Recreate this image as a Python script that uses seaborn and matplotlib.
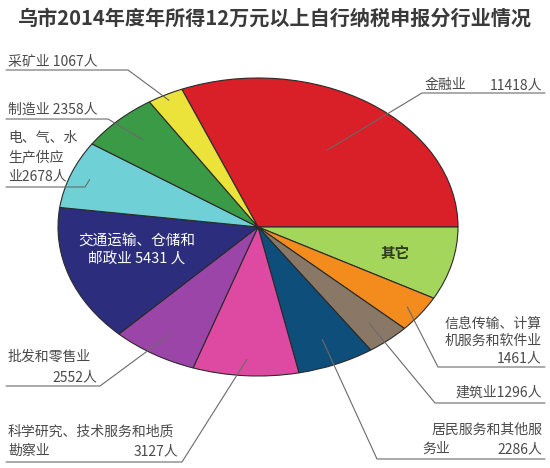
import numpy as np
import seaborn as sns
import matplotlib
matplotlib.use("Agg")
import matplotlib.pyplot as plt

# veriler
sektorler = ["金融业", "其它", "信息传输、计算机服务和软件业", "建筑业",
             "居民服务和其他服务业", "科学研究、技术服务和地质勘察业",
             "批发和零售业", "交通运输、仓储和邮政业", "电、气、水生产供应业",
             "制造业", "采矿业"]
kisi = [11418, 2900, 1461, 1296, 2286, 3127, 2552, 5431, 2678, 2358, 1067]
renkler = ["#d91f27", "#a4d65c", "#f38b1d", "#8a7866", "#0e4e7b", "#de4aa1",
           "#9c45a9", "#2c2e7d", "#6fd0d6", "#3b9a46", "#ece33a"]

sns.set_theme(style="white")
plt.rcParams["font.family"] = ["Noto Sans CJK SC", "DejaVu Sans"]

W, H = 550, 468
CX, CY, RX, RY = 258, 227, 200, 149


def px(x, y):
    # resim pikselinden veri koordinatina
    return (x - CX) / RX, (CY - y) / RY


fig = plt.figure(figsize=(W / 100, H / 100), dpi=100)
ax = fig.add_axes([0, 0, 1, 1])

baslangic = 360 * kisi[0] / sum(kisi)
wedges, _ = ax.pie(kisi, colors=renkler, startangle=baslangic, counterclock=False,
                   wedgeprops=dict(edgecolor="#2a2a2a", linewidth=0.8))
ax.set_aspect("auto")
ax.set_xlim(-CX / RX, (W - CX) / RX)
ax.set_ylim((CY - H) / RY, CY / RY)
ax.axis("off")

fig.text(0.5, 1 - 18 / H, "乌市2014年度年所得12万元以上自行纳税申报分行业情况",
         ha="center", va="center", fontsize=14.5, fontweight="bold", color="#3a3a3a")

gri = "#4a4a4a"
fs = 10


def yazi(x, y, s, ha="left", **kw):
    X, Y = px(x, y)
    ax.text(X, Y, s, ha=ha, va="center", fontsize=fs, color=gri, **kw)


# etiket: (dilim, alt cizgi y, sol x, sag x, dirsek x, yaricap)
cizgiler = [
    (10, 70, 6, 128, 128, 0.96),
    (9, 119, 6, 108, 108, 0.82),
    (8, 187, 6, 85, 85, 0.90),
    (0, 93, 545, 422, 422, 0.62),
    (2, 367, 545, 438, 438, 0.92),
    (3, 403, 545, 435, 435, 0.85),
    (4, 459, 545, 377, 377, 0.82),
    (6, 386, 6, 100, 100, 0.85),
    (5, 462, 6, 182, 182, 0.89),
]

for i, uy, x1, x2, dx, r in cizgiler:
    w = wedges[i]
    ort = np.deg2rad((w.theta1 + w.theta2) / 2)
    ex, ey = r * np.cos(ort), r * np.sin(ort)
    a = px(x1, uy)
    b = px(dx, uy)
    ax.plot([a[0], b[0], ex], [a[1], b[1], ey], color="#6a6a6a", lw=0.8)

yazi(8, 62, "采矿业 1067人")
yazi(8, 110, "制造业 2358人")
yazi(8, 157, "电、气、水\n生产供应\n业2678人", linespacing=1.45)
yazi(425, 85, "金融业")
yazi(542, 85, "11418人", ha="right")
yazi(542, 341, "信息传输、计算\n机服务和软件业\n1461人", ha="right", linespacing=1.3)
yazi(542, 393, "建筑业1296人", ha="right")
yazi(542, 430, "居民服务和其他服", ha="right")
yazi(422, 449, "务业")
yazi(542, 449, "2286人", ha="right")
yazi(8, 357, "批发和零售业")
yazi(97, 377, "2552人", ha="right")
yazi(8, 432, "科学研究、技术服务和地质")
yazi(8, 451, "勘察业")
yazi(178, 451, "3127人", ha="right")

X, Y = px(395, 253)
ax.text(X, Y, "其它", ha="center", va="center", fontsize=10.5,
        fontweight="bold", color="#2e3a1c")
X, Y = px(137, 250)
ax.text(X, Y, "交通运输、仓储和\n邮政业 5431 人", ha="center", va="center",
        fontsize=10.5, color="white", linespacing=1.4)

fig.savefig("out.png", dpi=100)
